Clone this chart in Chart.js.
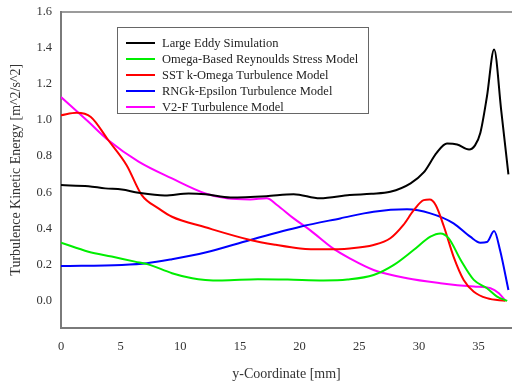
<!DOCTYPE html>
<html>
<head>
<meta charset="utf-8">
<script src="https://cdn.jsdelivr.net/npm/chart.js@4/dist/chart.umd.min.js"></script>
<style>
  html, body { margin: 0; padding: 0; background: #fff; }
  #wrap { width: 512px; height: 387px; }
</style>
</head>
<body>
<div id="wrap"><canvas id="c" width="512" height="387"></canvas></div>
<script>
// Turbulence kinetic energy profiles along the y-coordinate
const seriesNames = [
  'Large Eddy Simulation',
  'Omega-Based Reynoulds Stress Model',
  'SST k-Omega Turbulence Model',
  'RNGk-Epsilon Turbulence Model',
  'V2-F Turbulence Model'
];
const seriesColors = ['#000000', '#00ee00', '#ff0000', '#0000ff', '#ff00ff'];

const lesX = [0, 2.3, 3.7, 5.1, 6.5, 8.7, 10.7, 12.1, 14.2, 17.2, 19.5, 21.7, 24.2, 26.0, 27.6, 29.3, 30.4, 31.5, 32.35, 33.2, 34.2, 34.7, 35.15, 35.7, 36.3, 36.9, 37.5];
const lesY = [0.64, 0.634, 0.622, 0.616, 0.598, 0.583, 0.594, 0.59, 0.572, 0.579, 0.59, 0.567, 0.585, 0.592, 0.603, 0.65, 0.71, 0.82, 0.87, 0.865, 0.837, 0.86, 0.93, 1.13, 1.39, 1.05, 0.70];

const rsmX = [0, 2.3, 4.25, 6.2, 7.3, 9.3, 11, 12.1, 13.5, 16.5, 19, 22, 24, 26.2, 27.9, 29.55, 30.96, 31.8, 32.5, 33.5, 34.6, 35.7, 36.55, 37.4];
const rsmY = [0.322, 0.272, 0.245, 0.217, 0.202, 0.153, 0.125, 0.116, 0.113, 0.12, 0.118, 0.113, 0.118, 0.143, 0.199, 0.281, 0.355, 0.373, 0.346, 0.226, 0.116, 0.07, 0.024, 0.0];

const sstX = [0, 1.3, 2.5, 3.97, 5.5, 6.77, 8.2, 9.3, 12.1, 15.86, 18, 20.05, 22, 24.2, 26.2, 27.6, 28.7, 29.55, 30.4, 30.9, 31.4, 32.1, 32.9, 33.75, 34.6, 35.7, 37.25];
const sstY = [1.026, 1.04, 1.017, 0.888, 0.75, 0.585, 0.51, 0.465, 0.407, 0.337, 0.31, 0.29, 0.285, 0.29, 0.309, 0.346, 0.42, 0.50, 0.557, 0.56, 0.53, 0.41, 0.245, 0.116, 0.051, 0.015, 0.0];

const rngX = [0, 5.1, 7.2, 9.3, 12.1, 15.86, 20.05, 23.4, 26.2, 29.0, 30.96, 32.9, 34.3, 35.15, 35.7, 36.3, 36.8, 37.5];
const rngY = [0.193, 0.199, 0.208, 0.23, 0.267, 0.337, 0.41, 0.456, 0.493, 0.506, 0.484, 0.429, 0.355, 0.322, 0.325, 0.386, 0.28, 0.06];

const v2fX = [0, 2.3, 3.97, 6.5, 9.3, 12.1, 13.9, 15.86, 17.25, 18.1, 19.5, 20.9, 22.8, 24.2, 26.2, 29.0, 31.8, 34.6, 36.0, 36.7, 37.25];
const v2fY = [1.127, 0.99, 0.888, 0.77, 0.677, 0.594, 0.567, 0.561, 0.567, 0.53, 0.456, 0.39, 0.29, 0.235, 0.171, 0.125, 0.098, 0.079, 0.07, 0.042, 0.0];

const xTickValues = [0, 5, 10, 15, 20, 25, 30, 35];
const yTickValues = [0.0, 0.2, 0.4, 0.6, 0.8, 1.0, 1.2, 1.4, 1.6];

const xs = [lesX, rsmX, sstX, rngX, v2fX];
const ys = [lesY, rsmY, sstY, rngY, v2fY];

const datasets = seriesNames.map((name, i) => ({
  label: name,
  data: xs[i].map((x, k) => ({ x: x, y: ys[i][k] })),
  borderColor: seriesColors[i],
  backgroundColor: seriesColors[i],
  borderWidth: 2,
  pointRadius: 0,
  fill: false,
  cubicInterpolationMode: 'monotone'
}));

const serif = "'Liberation Serif', 'Times New Roman', serif";
const axisGray = '#7a7a7a';

// top frame line and the boxed legend inside the plot
const framePlugin = {
  id: 'frame',
  afterDraw(chart) {
    const ctx = chart.ctx;
    const a = chart.chartArea;
    ctx.save();
    ctx.strokeStyle = axisGray;
    ctx.lineWidth = 1.5;
    ctx.beginPath();
    ctx.moveTo(a.left, a.top + 0.5);
    ctx.lineTo(a.right, a.top + 0.5);
    ctx.stroke();

    // legend box
    const bx = 117.5, by = 27.5, bw = 251, bh = 86;
    ctx.fillStyle = '#fff';
    ctx.fillRect(bx, by, bw, bh);
    ctx.strokeStyle = '#666';
    ctx.lineWidth = 1;
    ctx.strokeRect(bx, by, bw, bh);
    ctx.font = '12.5px ' + serif;
    ctx.textBaseline = 'middle';
    ctx.textAlign = 'left';
    chart.data.datasets.forEach((ds, i) => {
      const yy = 43 + i * 16;
      ctx.strokeStyle = ds.borderColor;
      ctx.lineWidth = 2;
      ctx.beginPath();
      ctx.moveTo(126, yy);
      ctx.lineTo(155, yy);
      ctx.stroke();
      ctx.fillStyle = '#222';
      ctx.fillText(ds.label, 162, yy + 0.5);
    });
    ctx.restore();
  }
};

new Chart(document.getElementById('c'), {
  type: 'line',
  data: { datasets: datasets },
  options: {
    responsive: false,
    animation: false,
    layout: { padding: { top: 11, right: 0, left: 0, bottom: 0 } },
    plugins: { legend: { display: false }, tooltip: { enabled: false } },
    scales: {
      x: {
        type: 'linear',
        min: 0,
        max: 37.8,
        afterBuildTicks(axis) { axis.ticks = xTickValues.map(v => ({ value: v })); },
        afterFit(axis) { axis.height = 59; },
        grid: { display: false, drawOnChartArea: false, drawTicks: true, tickLength: 5, tickColor: axisGray },
        border: { display: true, color: axisGray, width: 2 },
        ticks: {
          color: '#333',
          font: { family: serif, size: 12.5 },
          padding: 6,
          maxRotation: 0,
          callback: v => String(v)
        },
        title: {
          display: true,
          text: 'y-Coordinate [mm]',
          color: '#333',
          font: { family: serif, size: 14 },
          padding: { top: 8, bottom: 4 }
        }
      },
      y: {
        type: 'linear',
        min: -0.15,
        max: 1.6,
        afterBuildTicks(axis) { axis.ticks = yTickValues.map(v => ({ value: v })); },
        afterFit(axis) { axis.width = 61; },
        grid: { display: false, drawOnChartArea: false, drawTicks: true, tickLength: 5, tickColor: axisGray },
        border: { display: true, color: axisGray, width: 2 },
        ticks: {
          color: '#333',
          font: { family: serif, size: 12.5 },
          padding: 4,
          callback: v => Number(v).toFixed(1)
        },
        title: {
          display: true,
          text: 'Turbulence Kinetic Energy [m^2/s^2]',
          color: '#333',
          font: { family: serif, size: 14 },
          padding: { top: 8, bottom: 6 }
        }
      }
    }
  },
  plugins: [framePlugin]
});
</script>
</body>
</html>
